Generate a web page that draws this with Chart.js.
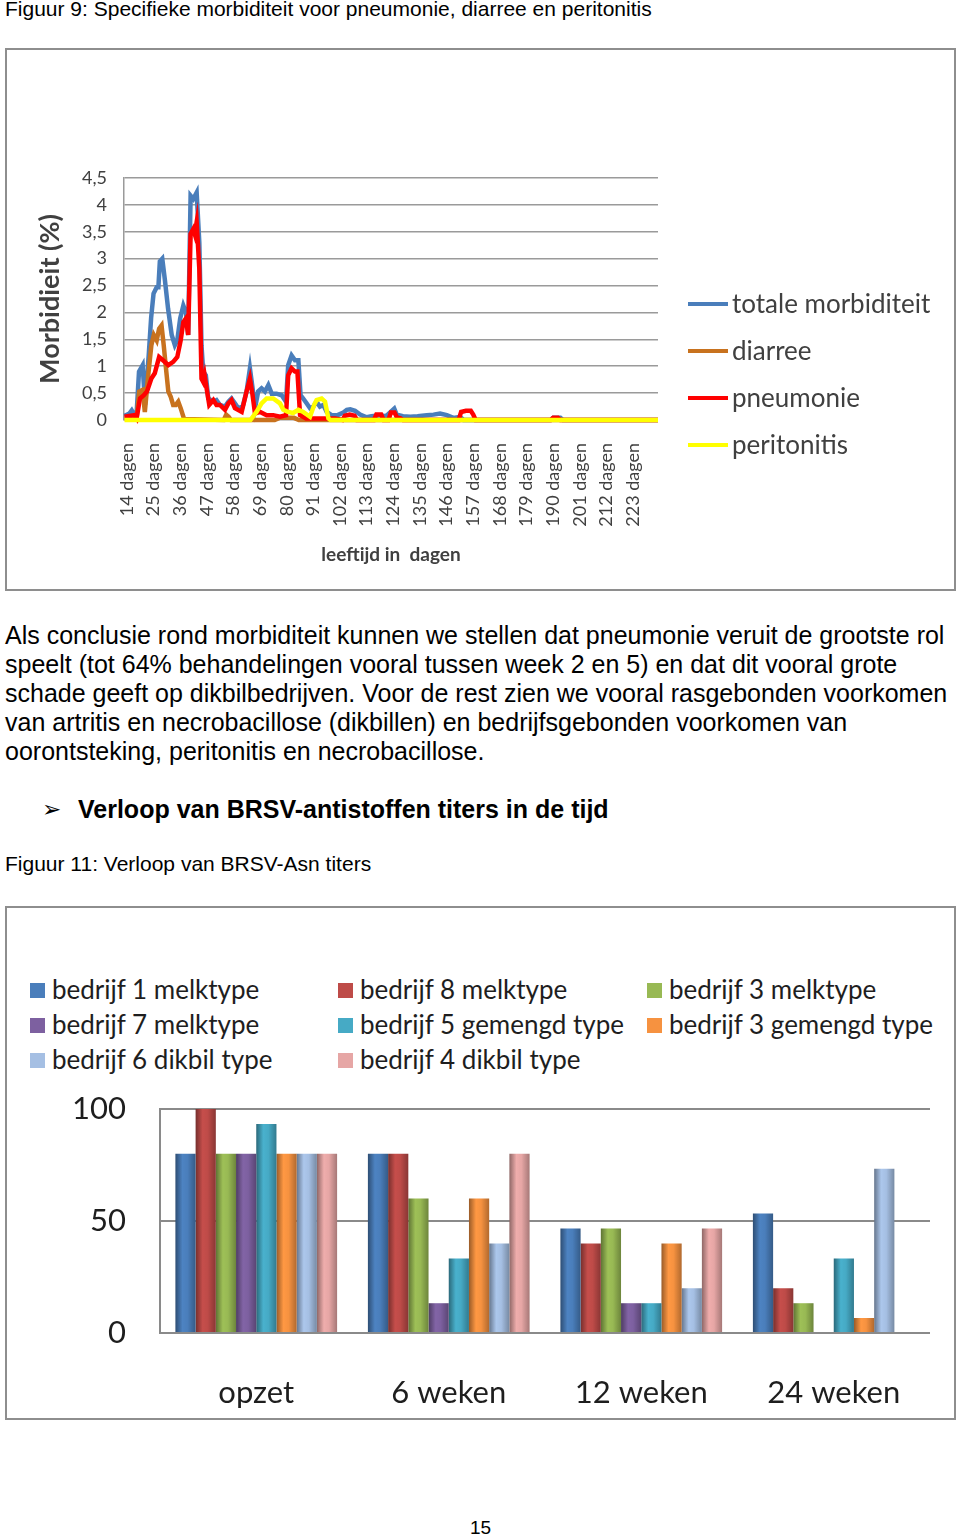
<!DOCTYPE html>
<html>
<head>
<meta charset="utf-8">
<script src="https://cdn.jsdelivr.net/npm/chart.js@4.4.0/dist/chart.umd.min.js"></script>
<style>
  body { margin: 0; width: 960px; height: 1537px; position: relative; background: #fff;
         font-family: "Liberation Sans", Arial, sans-serif; color: #000; overflow: hidden; }
  .abs { position: absolute; white-space: nowrap; }
  .box { position: absolute; border: 2px solid #8e8e8e; box-sizing: border-box; background: #fff; }
  .box canvas { position: absolute; }
  .para { font-size: 25px; line-height: 29px; }
  .leg { position: absolute; font-family: Lato, sans-serif; font-size: 26px; color: #1e1e1e; line-height: 30px; white-space: nowrap; }
  .leg span.sw { display: inline-block; width: 15px; height: 15px; margin-right: 7px; vertical-align: 1px; }
  .mleg { position: absolute; font-family: Lato, sans-serif; font-size: 26px; color: #404040; line-height: 30px; white-space: nowrap; }
  .mleg span.ln { display: inline-block; width: 40px; height: 4px; margin-right: 4px; vertical-align: 7px; }
</style>
</head>
<body>

<div class="abs" style="left:5px; top:-3px; font-size:21px; line-height:24px;">Figuur 9: Specifieke morbiditeit voor pneumonie, diarree en peritonitis</div>

<div class="box" style="left:5px; top:48px; width:951px; height:543px;">
  <canvas id="morbChart" width="947" height="539" style="left:0; top:0; width:947px; height:539px;"></canvas>
  <div id="morbLegend"></div>
</div>

<div class="abs para" style="left:5px; top:621px;">
Als conclusie rond morbiditeit kunnen we stellen dat pneumonie veruit de grootste rol<br>
speelt (tot 64% behandelingen vooral tussen week 2 en 5) en dat dit vooral grote<br>
schade geeft op dikbilbedrijven. Voor de rest zien we vooral rasgebonden voorkomen<br>
van artritis en necrobacillose (dikbillen) en bedrijfsgebonden voorkomen van<br>
oorontsteking, peritonitis en necrobacillose.
</div>

<div class="abs" style="left:42px; top:795px; font-size:23px; line-height:28px; font-family:'DejaVu Sans',sans-serif;">&#10146;</div>
<div class="abs" style="left:78px; top:795px; font-size:25px; line-height:28px; font-weight:bold;">Verloop van BRSV-antistoffen titers in de tijd</div>

<div class="abs" style="left:5px; top:852px; font-size:21px; line-height:24px;">Figuur 11: Verloop van BRSV-Asn titers</div>

<div class="box" style="left:5px; top:906px; width:951px; height:514px;">
  <div id="brsvLegend"></div>
  <canvas id="brsvChart" width="946" height="327" style="left:0; top:182px; width:946px; height:327px;"></canvas>
</div>

<div class="abs" style="left:470px; top:1518px; font-size:19px; line-height:20px;">15</div>

<script>
// ---- Figuur 9: morbiditeit (%) per leeftijd in dagen ----
const dagTicks = [14, 25, 36, 47, 58, 69, 80, 91, 102, 113, 124, 135, 146, 157, 168, 179, 190, 201, 212, 223];
const morbNamen = ["totale morbiditeit", "diarree", "pneumonie", "peritonitis"];
const morbKleuren = ["#4A7EBB", "#C8721E", "#FF0000", "#FFFF00"];

const totaalDagen = [13, 15, 16, 17, 18, 19, 20.5, 21.5, 23, 24, 25, 26.3, 27, 27.6, 28.6, 29.7, 31, 32.5, 33.8, 34.8,
  36, 37.3, 38.4, 39.3, 40.3, 41.4, 42.8, 43.9, 44.8, 45.5, 46.6, 47.6, 49.7, 51, 52.4, 54.5, 55.9, 57.2, 58.6, 60,
  61.8, 63.4, 64.8, 65.9, 66.9, 68.2, 69.6, 71, 72.4, 73.8, 75.8, 77.9, 79.7, 80.6, 82, 83.4, 84.8, 85.7, 86.8, 88.2,
  89.6, 91, 92.3, 93.7, 95.1, 96.5, 98.5, 101, 103.4, 104.8, 106.2, 108.2, 110.3, 113, 115, 118.5, 121, 124.4, 125.4,
  128, 131, 134, 137.8, 140.6, 143.3, 146.1, 148.8, 151.6, 153, 189, 190, 193, 194, 233.3];
const totaalWaarden = [0.08, 0.12, 0.18, 0.1, 0.12, 0.9, 1.02, 0.28, 1.2, 1.9, 2.35, 2.47, 2.47, 2.95, 3.0, 2.6, 2.07, 1.58, 1.39, 1.48,
  1.89, 2.13, 2.0, 1.58, 4.17, 4.11, 4.23, 3.3, 1.39, 0.9, 0.83, 0.4, 0.34, 0.37, 0.28, 0.25, 0.34, 0.4, 0.31, 0.22,
  0.25, 0.53, 0.96, 0.59, 0.22, 0.53, 0.59, 0.53, 0.65, 0.49, 0.49, 0.46, 0.34, 1.02, 1.2, 1.11, 1.11, 0.46, 0.4, 0.31,
  0.22, 0.25, 0.34, 0.25, 0.28, 0.15, 0.09, 0.09, 0.14, 0.19, 0.2, 0.17, 0.1, 0.05, 0.07, 0.09, 0.07, 0.21, 0.1,
  0.07, 0.06, 0.07, 0.09, 0.1, 0.12, 0.09, 0.04, 0.06, 0.0, 0.0, 0.04, 0.04, 0.0, 0.0];

const diarreeDagen = [13, 18, 19.1, 20.5, 21.4, 22.8, 24.1, 25.1, 26.3, 27.3, 28.3, 29.2, 30, 31.1, 32.1, 33.1, 34.2,
  35.2, 36.2, 37.6, 54, 55, 56, 57, 75, 77, 83, 85, 233.3];
const diarreeWaarden = [0.03, 0.03, 0.53, 0.56, 0.15, 0.83, 1.39, 1.58, 1.48, 1.7, 1.76, 1.39, 1.02, 0.53, 0.43, 0.28, 0.28,
  0.34, 0.22, 0.02, 0.0, 0.1, 0.06, 0.0, 0.0, 0.04, 0.04, 0.0, 0.0];

const pneumonieDagen = [13, 17, 18, 19.4, 21, 22.3, 24.1, 25.5, 27.3, 28.9, 31.1, 33.1, 34.8, 36.2, 37.3, 38.4, 39.3,
  40.3, 41.4, 42, 42.8, 43.9, 44.8, 45.5, 46.1, 46.9, 48, 49.7, 51, 52.4, 54.5, 55.9, 57.2, 58.6, 61.4, 63.4, 64.8,
  65.9, 66.9, 69, 71.7, 74.4, 77.2, 79.7, 80.6, 82, 83.4, 84.4, 85.5, 88, 100, 103, 104, 106, 108, 109, 116, 117,
  119, 120, 122, 123, 124.5, 125.5, 127, 128, 151, 152, 154, 156, 157, 158, 189, 190, 192, 193, 233.3];
const pneumonieWaarden = [0.06, 0.09, 0.03, 0.4, 0.46, 0.53, 0.77, 0.87, 1.17, 1.11, 1.02, 1.08, 1.17, 1.48, 1.82, 1.89, 1.58,
  3.46, 3.55, 3.46, 3.68, 2.81, 0.77, 0.71, 0.83, 0.59, 0.28, 0.37, 0.28, 0.28, 0.19, 0.31, 0.37, 0.22, 0.15, 0.53, 0.77,
  0.46, 0.12, 0.15, 0.09, 0.09, 0.06, 0.09, 0.83, 0.96, 0.9, 0.9, 0.09, 0.03, 0.03, 0.0, 0.08, 0.1, 0.08, 0.0, 0.0, 0.1,
  0.1, 0.0, 0.0, 0.14, 0.14, 0.05, 0.03, 0.0, 0.0, 0.15, 0.17, 0.17, 0.1, 0.0, 0.0, 0.04, 0.04, 0.0, 0.0];

const peritonitisDagen = [13, 65, 67.5, 69.6, 71.7, 74.4, 77.2, 78.6, 80.6, 82.6, 84.8, 86.8, 89.6, 91.5, 92.3, 94.4,
  95.8, 97.2, 98, 233.3];
const peritonitisWaarden = [0.0, 0.0, 0.15, 0.31, 0.4, 0.4, 0.31, 0.19, 0.15, 0.13, 0.19, 0.15, 0.06, 0.3, 0.37, 0.4,
  0.34, 0.03, 0.0, 0.0];

const toPoints = (xs, ys) => xs.map((x, i) => ({ x, y: ys[i] }));
const fmtKomma = (v) => String(v).replace(".", ",");

const morbSeries = [
  toPoints(totaalDagen, totaalWaarden),
  toPoints(diarreeDagen, diarreeWaarden),
  toPoints(pneumonieDagen, pneumonieWaarden),
  toPoints(peritonitisDagen, peritonitisWaarden),
];
// Excel draws the later series on top; Chart.js puts the lowest order on top
const tekenVolgorde = [3, 2, 1, 0];

// legend to the right of the plot (HTML, Chart.js caps a side legend's width)
const morbLegendEl = document.getElementById("morbLegend");
morbNamen.forEach((naam, i) => {
  const d = document.createElement("div");
  d.className = "mleg";
  d.style.left = 688 - 7 + "px";
  d.style.top = 303 - 50 - 15 + i * 47 + "px";
  d.innerHTML = `<span class="ln" style="background:${morbKleuren[i]}"></span>${naam}`;
  morbLegendEl.appendChild(d);
});

new Chart(document.getElementById("morbChart"), {
  type: "line",
  data: {
    datasets: morbSeries.map((pts, i) => ({
      label: morbNamen[i],
      data: pts,
      borderColor: morbKleuren[i],
      backgroundColor: morbKleuren[i],
      borderWidth: 4.5,
      pointRadius: 0,
      tension: 0,
      clip: false,
      order: tekenVolgorde[i],
    })),
  },
  options: {
    responsive: false,
    animation: false,
    layout: { padding: { top: 128, right: 296, bottom: 0, left: 0 } },
    plugins: {
      tooltip: { enabled: false },
      legend: { display: false },
    },
    scales: {
      x: {
        type: "linear",
        min: 12.8,
        max: 233.3,
        afterBuildTicks: (axis) => { axis.ticks = dagTicks.map((v) => ({ value: v })); },
        afterFit: (axis) => { axis.height = 169; },
        grid: { display: false },
        border: { display: false },
        ticks: {
          autoSkip: false,
          minRotation: 90,
          maxRotation: 90,
          padding: 15,
          font: { family: "Lato", size: 18 },
          color: "#404040",
          callback: (v) => v + " dagen",
        },
        title: {
          display: true,
          text: "leeftijd in  dagen",
          font: { family: "Lato", size: 19, weight: "bold" },
          color: "#404040",
          padding: { top: 0, bottom: 23 },
        },
      },
      y: {
        min: 0,
        max: 4.5,
        afterFit: (axis) => { axis.width = 117; },
        grid: { color: "#9a9a9a", lineWidth: 1.5, drawTicks: false },
        border: { display: true, color: "#9a9a9a", width: 1.5 },
        ticks: {
          stepSize: 0.5,
          padding: 17,
          font: { family: "Lato", size: 18 },
          color: "#404040",
          callback: (v) => fmtKomma(v),
        },
        title: {
          display: true,
          text: "Morbidieit (%)",
          font: { family: "Lato", size: 27, weight: "bold" },
          color: "#404040",
          padding: { top: 27, bottom: 0 },
        },
      },
    },
  },
});

// ---- Figuur 11: BRSV-Asn titers ----
const tijdstippen = ["opzet", "6 weken", "12 weken", "24 weken"];
const bedrijfNamen = [
  "bedrijf 1 melktype", "bedrijf 8 melktype", "bedrijf 3 melktype", "bedrijf 7 melktype",
  "bedrijf 5 gemengd type", "bedrijf 3 gemengd type", "bedrijf 6 dikbil type", "bedrijf 4 dikbil type",
];
const bedrijfKleuren = ["#4A7EBB", "#BE4B48", "#98B954", "#7D60A0", "#46AAC5", "#F69240", "#A5BFE3", "#E6A6A5"];
const bedrijf1Melk = [80, 80, 46.7, 53.3];
const bedrijf8Melk = [100, 80, 40, 20];
const bedrijf3Melk = [80, 60, 46.7, 13.3];
const bedrijf7Melk = [80, 13.3, 13.3, 0];
const bedrijf5Gemengd = [93.3, 33.3, 13.3, 33.3];
const bedrijf3Gemengd = [80, 60, 40, 6.7];
const bedrijf6Dikbil = [80, 40, 20, 73.3];
const bedrijf4Dikbil = [80, 80, 46.7, 0];
const titerReeksen = [bedrijf1Melk, bedrijf8Melk, bedrijf3Melk, bedrijf7Melk,
  bedrijf5Gemengd, bedrijf3Gemengd, bedrijf6Dikbil, bedrijf4Dikbil];

// HTML legend in three columns, like the Excel original
const legendCols = [30, 338, 647];
const legendRows = [81, 116, 151];
const legendEl = document.getElementById("brsvLegend");
bedrijfNamen.forEach((naam, i) => {
  const d = document.createElement("div");
  d.className = "leg";
  d.style.left = legendCols[i % 3] - 7 + "px";
  d.style.top = legendRows[Math.floor(i / 3)] - 15 + "px";
  d.innerHTML = `<span class="sw" style="background:${bedrijfKleuren[i]}"></span>${naam}`;
  legendEl.appendChild(d);
});

function shade(hex, f) {
  const n = parseInt(hex.slice(1), 16);
  const c = [(n >> 16) & 255, (n >> 8) & 255, n & 255].map((v) => Math.max(0, Math.min(255, Math.round(v * f))));
  return `rgb(${c[0]},${c[1]},${c[2]})`;
}

// cylinder-like shading of the bars (Excel 2007 style)
const barShading = {
  id: "barShading",
  beforeDatasetsDraw(chart) {
    const ctx = chart.ctx;
    chart.data.datasets.forEach((ds, i) => {
      chart.getDatasetMeta(i).data.forEach((bar) => {
        const half = bar.width / 2;
        const g = ctx.createLinearGradient(bar.x - half, 0, bar.x + half, 0);
        g.addColorStop(0, shade(ds.backgroundColor, 0.62));
        g.addColorStop(0.35, shade(ds.backgroundColor, 1.04));
        g.addColorStop(0.6, shade(ds.backgroundColor, 1.0));
        g.addColorStop(1, shade(ds.backgroundColor, 0.72));
        bar.options = Object.assign({}, bar.options, { backgroundColor: g });
      });
    });
  },
};

new Chart(document.getElementById("brsvChart"), {
  type: "bar",
  data: {
    labels: tijdstippen,
    datasets: titerReeksen.map((vals, i) => ({
      label: bedrijfNamen[i],
      data: vals,
      backgroundColor: bedrijfKleuren[i],
      borderWidth: 0,
      categoryPercentage: 0.84,
      barPercentage: 1.0,
    })),
  },
  options: {
    responsive: false,
    animation: false,
    layout: { padding: { top: 19, right: 23, bottom: 0, left: 0 } },
    plugins: { legend: { display: false }, tooltip: { enabled: false } },
    scales: {
      x: {
        afterFit: (axis) => { axis.height = 84; },
        grid: { display: false },
        border: { display: false },
        ticks: { padding: 33, font: { family: "Lato", size: 31 }, color: "#1e1e1e" },
      },
      y: {
        min: 0,
        max: 100,
        afterFit: (axis) => { axis.width = 153; axis.paddingTop = 19; axis.paddingBottom = 19; },
        grid: { color: "#8a8a8a", lineWidth: 2, drawTicks: false },
        border: { display: true, color: "#8a8a8a", width: 2 },
        ticks: { stepSize: 50, padding: 34, font: { family: "Lato", size: 31 }, color: "#1e1e1e" },
      },
    },
  },
  plugins: [barShading],
});
</script>
</body>
</html>
